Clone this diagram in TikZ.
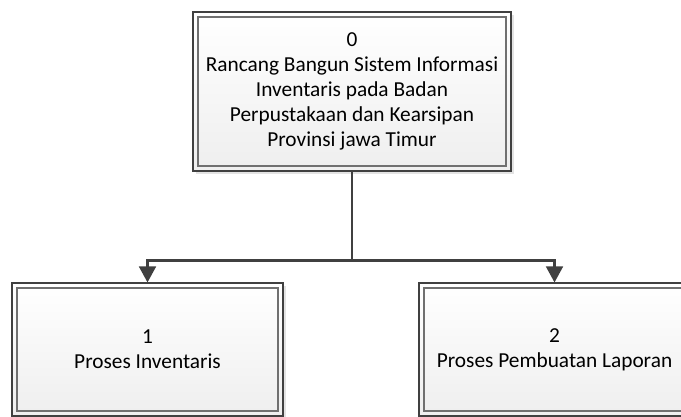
\documentclass[tikz,border=0pt]{standalone}
\usepackage{fontspec}
\setmainfont{Carlito}
\usepackage{tikz}
\usetikzlibrary{arrows.meta}
\usetikzlibrary{shadows}
\definecolor{linegray}{HTML}{404040}
\definecolor{innergray}{HTML}{707070}
\tikzstyle{proc_box}=[draw=linegray, line width=0.8pt, top color=white, bottom color=gray!13,
    drop shadow={shadow xshift=2.5pt, shadow yshift=-2.5pt, fill=gray!22, opacity=1},
    align=center, inner sep=0pt, font=\fontsize{16}{18.75}\selectfont, proc_inner]
\tikzstyle{proc_inner}=[
    {path picture={
        \draw[innergray, line width=0.8pt]
        ([shift={(3.75pt,-3.75pt)}]path picture bounding box.north west) rectangle
        ([shift={(-3.75pt,3.75pt)}]path picture bounding box.south east);
      }
    }
]
\tikzstyle{link}=[draw=linegray, line width=2pt, -{Triangle[length=12pt,width=12.5pt]}]

\begin{document}
\begin{tikzpicture}[x=0.75pt, y=-0.75pt]
  \useasboundingbox (0,0) rectangle (681,417);
  \clip (0,0) rectangle (681,417);
  \node[proc_box, minimum width=238.5pt, minimum height=119.25pt] (p0) at (352,91.5)
    {0\\Rancang Bangun Sistem Informasi\\Inventaris pada Badan\\Perpustakaan dan Kearsipan\\Provinsi jawa Timur};
  \node[proc_box, minimum width=203.25pt, minimum height=99.75pt] (p1) at (147.5,349.5)
    {1\\Proses Inventaris};
  \node[proc_box, minimum width=203.25pt, minimum height=99.75pt] (p2) at (554.5,349.5)
    {2\\Proses Pembuatan Laporan};
  \draw[link] (p0.south) -- ++(0,89) -| (p1.north);
  \draw[link] (p0.south) -- ++(0,89) -| (p2.north);
\end{tikzpicture}
\end{document}
